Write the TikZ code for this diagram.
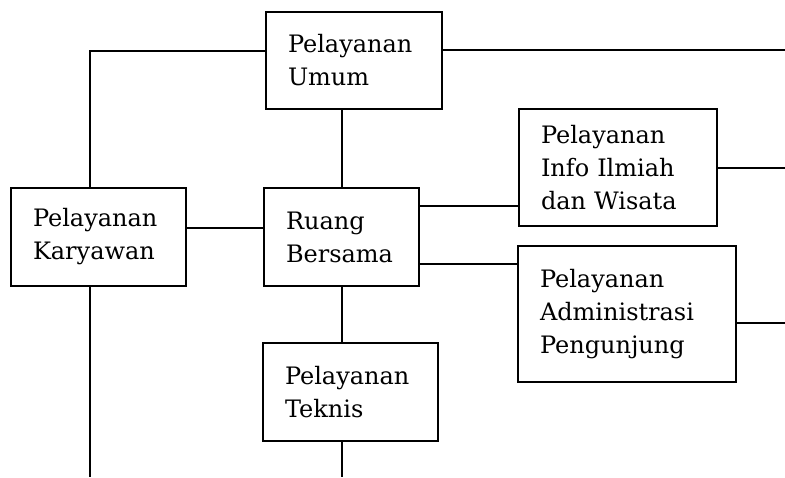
\documentclass[tikz,border=0pt]{standalone}
\usepackage{fontspec}
\setmainfont{DejaVu Serif}
\begin{document}
\begin{tikzpicture}[x=1pt,y=-1pt,
  unit/.style={draw, line width=1.9pt, inner xsep=22pt, inner ysep=0pt,
    align=left, anchor=center, font=\fontsize{24}{33}\selectfont},
  link/.style={line width=1.9pt}]
\useasboundingbox (0,0) rectangle (785,477);

% service units
\node[unit, text width=132pt, minimum height=97pt]  (umum)     at (354,60.5)  {Pelayanan\\Umum};
\node[unit, text width=131pt, minimum height=98pt]  (karyawan) at (98.5,237)  {Pelayanan\\Karyawan};
\node[unit, text width=111pt, minimum height=98pt]  (ruang)    at (341.5,237) {Ruang\\Bersama};
\node[unit, text width=154pt, minimum height=117pt] (info)     at (618,167.5) {Pelayanan\\Info Ilmiah\\dan Wisata};
\node[unit, text width=174pt, minimum height=136pt] (admin)    at (627,314)   {Pelayanan\\Administrasi\\Pengunjung};
\node[unit, text width=131pt, minimum height=98pt]  (teknis)   at (350.5,392) {Pelayanan\\Teknis};

% routing points and open line ends
\coordinate (uL)  at (90,51);
\coordinate (uR)  at (785,50);
\coordinate (kR)  at (0,228);
\coordinate (rI)  at (0,206);
\coordinate (rA)  at (0,264);
\coordinate (iR)  at (785,168);
\coordinate (aR)  at (785,323);
\coordinate (spine) at (342,0);
\coordinate (tEnd) at (342,477);
\coordinate (kEnd) at (90,477);

% connections
\draw[link] (umum.west |- uL) -- (uL) -- (uL |- karyawan.north);
\draw[link] (umum.east |- uR) -- (uR);
\draw[link] (spine |- umum.south) -- (spine |- ruang.north);
\draw[link] (karyawan.east |- kR) -- (ruang.west |- kR);
\draw[link] (ruang.east |- rI) -- (info.west |- rI);
\draw[link] (ruang.east |- rA) -- (admin.west |- rA);
\draw[link] (info.east |- iR) -- (iR);
\draw[link] (admin.east |- aR) -- (aR);
\draw[link] (spine |- ruang.south) -- (spine |- teknis.north);
\draw[link] (spine |- teknis.south) -- (tEnd);
\draw[link] (kEnd |- karyawan.south) -- (kEnd);
\end{tikzpicture}
\end{document}
